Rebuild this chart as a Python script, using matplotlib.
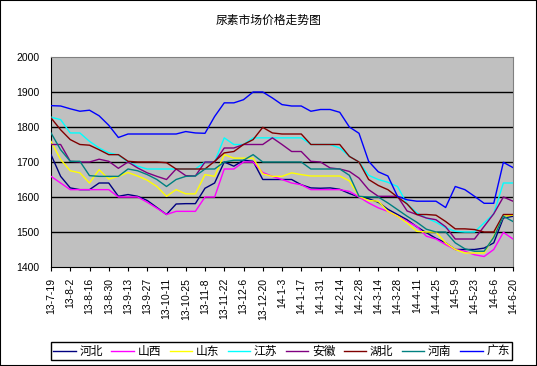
import matplotlib

matplotlib.use("Agg")
import matplotlib.pyplot as plt
import numpy as np
from matplotlib.patches import Rectangle

plt.rcParams["font.family"] = ["Noto Sans CJK SC", "DejaVu Sans"]

tick_labels = [
    "13-7-19", "13-8-2", "13-8-16", "13-8-30", "13-9-13", "13-9-27", "13-10-11",
    "13-10-25", "13-11-8", "13-11-22", "13-12-6", "13-12-20", "14-1-3", "14-1-17",
    "14-1-31", "14-2-14", "14-2-28", "14-3-14", "14-3-28", "14-4-11", "14-4-25",
    "14-5-9", "14-5-23", "14-6-6", "14-6-20",
]

# weekly prices, one value per week from 13-7-19 to 14-6-20
hebei = [1721, 1659, 1626, 1621, 1621, 1640, 1640, 1602, 1607, 1602, 1590, 1570, 1550,
         1580, 1581, 1581, 1625, 1640, 1700, 1688, 1705, 1702, 1650, 1650, 1650, 1650,
         1635, 1626, 1625, 1626, 1622, 1610, 1600, 1595, 1585, 1565, 1550, 1535, 1515,
         1498, 1482, 1469, 1450, 1450, 1450, 1454, 1469, 1540, 1545]
shanxi = [1659, 1640, 1621, 1621, 1621, 1621, 1621, 1600, 1600, 1600, 1585, 1568, 1550,
          1559, 1559, 1559, 1600, 1600, 1680, 1680, 1700, 1700, 1670, 1659, 1650, 1640,
          1635, 1621, 1621, 1621, 1621, 1616, 1600, 1583, 1569, 1559, 1545, 1530, 1516,
          1488, 1480, 1464, 1450, 1445, 1435, 1430, 1450, 1499, 1480]
shandong = [1759, 1707, 1675, 1669, 1640, 1678, 1651, 1659, 1670, 1660, 1648, 1630, 1602,
            1621, 1609, 1609, 1664, 1659, 1721, 1711, 1711, 1711, 1666, 1659, 1659, 1669,
            1664, 1660, 1660, 1660, 1660, 1646, 1602, 1590, 1588, 1559, 1545, 1526, 1502,
            1500, 1500, 1469, 1450, 1440, 1440, 1440, 1488, 1545, 1548]
jiangsu = [1828, 1821, 1783, 1783, 1759, 1740, 1726, 1720, 1700, 1688, 1680, 1680, 1680,
           1680, 1680, 1680, 1700, 1700, 1769, 1750, 1750, 1769, 1769, 1769, 1769, 1769,
           1769, 1750, 1750, 1750, 1740, 1716, 1700, 1662, 1650, 1642, 1630, 1580, 1555,
           1540, 1528, 1512, 1502, 1500, 1500, 1526, 1552, 1640, 1640]
anhui = [1750, 1750, 1702, 1700, 1700, 1708, 1702, 1682, 1700, 1683, 1669, 1659, 1650,
         1680, 1661, 1660, 1700, 1700, 1740, 1740, 1750, 1750, 1750, 1769, 1750, 1730,
         1730, 1702, 1700, 1683, 1680, 1673, 1654, 1621, 1602, 1602, 1602, 1560, 1550,
         1540, 1535, 1515, 1480, 1480, 1480, 1516, 1552, 1600, 1588]
hubei = [1826, 1792, 1764, 1750, 1748, 1735, 1721, 1721, 1702, 1700, 1700, 1700, 1698,
         1680, 1680, 1680, 1680, 1702, 1726, 1730, 1750, 1764, 1799, 1783, 1780, 1780,
         1780, 1750, 1750, 1750, 1750, 1716, 1700, 1650, 1633, 1621, 1600, 1580, 1550,
         1550, 1548, 1530, 1509, 1509, 1507, 1500, 1500, 1550, 1550]
henan = [1783, 1735, 1702, 1702, 1661, 1659, 1659, 1659, 1680, 1675, 1664, 1650, 1630,
         1650, 1659, 1660, 1680, 1680, 1700, 1705, 1705, 1721, 1700, 1700, 1700, 1700,
         1700, 1680, 1680, 1680, 1680, 1662, 1602, 1600, 1600, 1583, 1564, 1545, 1528,
         1508, 1500, 1500, 1469, 1452, 1445, 1445, 1485, 1545, 1530]
guangdong = [1861, 1860, 1852, 1845, 1848, 1832, 1805, 1770, 1780, 1780, 1780, 1780, 1780,
             1780, 1787, 1783, 1782, 1830, 1869, 1869, 1878, 1900, 1900, 1883, 1864, 1860,
             1860, 1845, 1850, 1850, 1842, 1800, 1782, 1702, 1672, 1660, 1602, 1592, 1588,
             1588, 1588, 1570, 1630, 1621, 1602, 1582, 1582, 1699, 1684]

series = [
    ("河北", hebei, "#000080"),
    ("山西", shanxi, "#FF00FF"),
    ("山东", shandong, "#FFFF00"),
    ("江苏", jiangsu, "#00FFFF"),
    ("安徽", anhui, "#800080"),
    ("湖北", hubei, "#800000"),
    ("河南", henan, "#008080"),
    ("广东", guangdong, "#0000FF"),
]

fig = plt.figure(figsize=(5.37, 3.66), dpi=100)
fig.patches.append(Rectangle((0, 0), 1, 1, transform=fig.transFigure, fill=False,
                             edgecolor="black", linewidth=1.5))
ax = fig.add_axes([51 / 537, 1 - 267 / 366, 462 / 537, 210 / 366])
ax.set_facecolor("#C0C0C0")

x = np.arange(len(hebei))
for name, values, color in series:
    ax.plot(x, values, color=color, linewidth=1, label=name, zorder=3)
for level in range(1500, 2000, 100):
    ax.axhline(level, color="black", linewidth=1, zorder=1)

ax.set_xlim(0, len(hebei) - 1)
ax.set_ylim(1400, 2000)
ax.set_yticks(range(1400, 2001, 100))
ax.set_xticks(x[::2], tick_labels, rotation=90)
for label in ax.get_xticklabels() + ax.get_yticklabels():
    label.set_family("Liberation Sans")
    label.set_fontsize(7.5)
ax.tick_params(axis="x", direction="out", length=3, width=0.8, color="black", pad=5)
ax.tick_params(axis="y", length=0, pad=8.5)
ax.spines["top"].set_color("#808080")
ax.spines["right"].set_color("#808080")
for side in ("left", "bottom"):
    ax.spines[side].set_color("black")

fig.text(0.5, 1 - 20 / 366, "尿素市场价格走势图", ha="center", va="center", fontsize=8.5)

fig.legend(
    loc="lower left",
    bbox_to_anchor=(51 / 537, 6 / 366, 461 / 537, 19 / 366),
    mode="expand",
    ncol=8,
    fontsize=8.5,
    handlelength=1.9,
    handletextpad=0.3,
    columnspacing=0.5,
    borderpad=0.2,
    borderaxespad=0,
    frameon=True,
    fancybox=False,
    edgecolor="black",
    framealpha=1,
)

fig.savefig("out.png", dpi=100)
